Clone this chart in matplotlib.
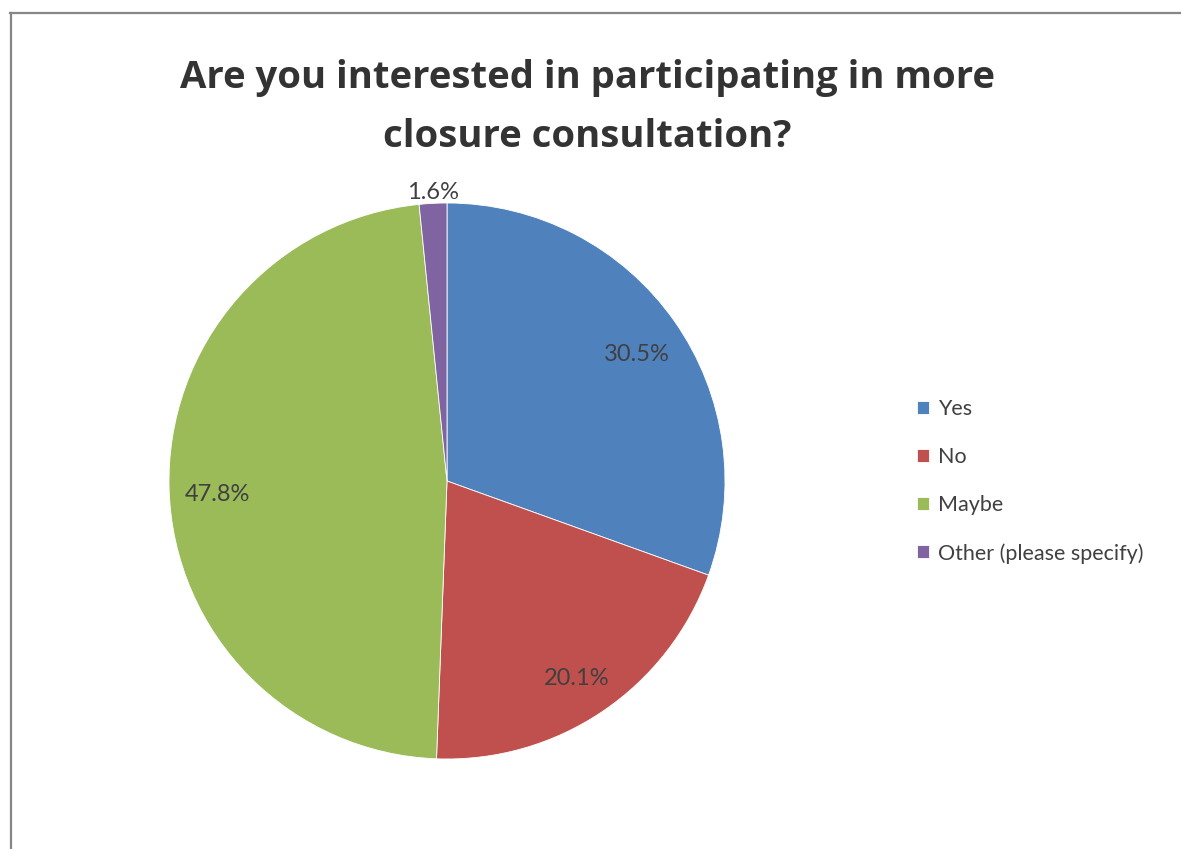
import matplotlib
matplotlib.use("Agg")
import numpy as np
import matplotlib.pyplot as plt
import matplotlib.transforms as mtransforms
from matplotlib.lines import Line2D

# Survey answers (percent)
labels = ["Yes", "No", "Maybe", "Other (please specify)"]
values = [30.5, 20.1, 47.8, 1.6]
colors = ["#4F81BD", "#C0504D", "#9BBB59", "#8064A2"]
title_lines = ["Are you interested in participating in more", "closure consultation?"]

plt.rcParams["font.family"] = ["Lato", "DejaVu Sans"]

W, H = 1181, 849
fig = plt.figure(figsize=(W / 100, H / 100), dpi=100)

# pie axes: centre (447, 481) px, radius 278 px
cx, cy, r = 447, 481, 278
ax = fig.add_axes([(cx - r) / W, (H - cy - r) / H, 2 * r / W, 2 * r / H])

wedges, texts, autotexts = ax.pie(
    values, colors=colors, startangle=90, counterclock=False,
    autopct="%1.1f%%", pctdistance=0.83,
    wedgeprops=dict(edgecolor="white", linewidth=0.6),
    textprops=dict(fontsize=17, color="#404040"),
)
ax.set_xlim(-1, 1)
ax.set_ylim(-1, 1)

# small slice label sits outside the pie
w = wedges[3]
ang = np.deg2rad((w.theta1 + w.theta2) / 2)
autotexts[3].set_position((1.06 * np.cos(ang), 1.06 * np.sin(ang)))
shift = mtransforms.offset_copy(ax.transData, fig=fig, x=1, y=-6, units="dots")
for t in autotexts:
    t.set_transform(shift)

# title
fig.text(587 / W, 1 - 88 / H, title_lines[0], ha="center", va="baseline",
         fontsize=27.5, fontweight="bold", color="#333333", family="Open Sans")
fig.text(587 / W, 1 - 147 / H, title_lines[1], ha="center", va="baseline",
         fontsize=27.5, fontweight="bold", color="#333333", family="Open Sans")

# legend
fig.legend(wedges, labels, loc="upper left",
           bbox_to_anchor=(917 / W, 1 - 399 / H), frameon=False,
           fontsize=15.5, handlelength=0.56, handleheight=0.56,
           handletextpad=0.4, labelspacing=1.3, borderpad=0,
           borderaxespad=0, labelcolor="#404040")

# chart area border (left and top edges)
border = "#868686"
fig.add_artist(Line2D([10.5 / W, 10.5 / W], [0, 1 - 13 / H], transform=fig.transFigure,
                      color=border, linewidth=1.6))
fig.add_artist(Line2D([10 / W, 1], [1 - 13 / H, 1 - 13 / H], transform=fig.transFigure,
                      color=border, linewidth=1.6))

fig.savefig("out.png", dpi=100)
